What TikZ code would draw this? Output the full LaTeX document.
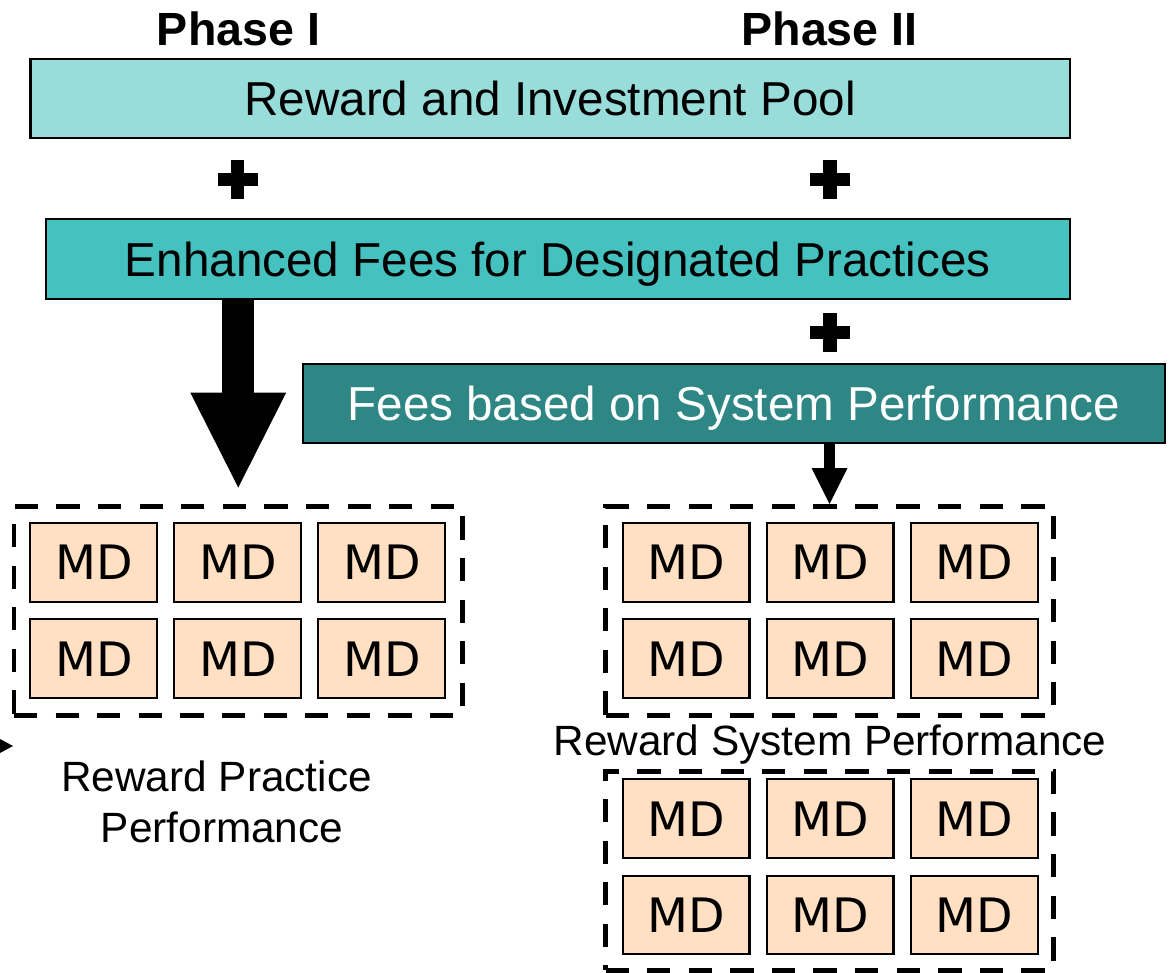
\documentclass[tikz,border=0pt]{standalone}
\usepackage{fontspec}
\setmainfont{Liberation Sans}
\newfontfamily\mdfamily{DejaVu Sans}
\usetikzlibrary{arrows.meta}
\definecolor{poolcol}{HTML}{99DDDB}
\definecolor{feecol}{HTML}{45C1BF}
\definecolor{syscol}{HTML}{2E8784}
\definecolor{mdcol}{HTML}{FFE0C2}
\newcommand\PXU{0.02cm}
\begin{document}
\begin{tikzpicture}[x=0.02cm,y=-0.02cm,
  bar/.style={draw=black, line width=1.14pt, inner sep=0pt, font=\fontsize{27.1}{32}\selectfont, text height=19.4pt, text depth=0pt},
  phase/.style={font=\bfseries\fontsize{26.5}{32}\selectfont, inner sep=0pt},
  lbl/.style={font=\fontsize{24.1}{29}\selectfont, inner sep=0pt},
  grp/.style={draw, line width=0.1cm, dash pattern=on 0.466cm off 0.366cm, inner sep=0pt},
  mdbox/.style={draw, line width=1.14pt, fill=mdcol, inner sep=0pt, minimum width=2.54cm, minimum height=1.57cm, font=\mdfamily\fontsize{27}{32}\selectfont, text height=19.7pt, text depth=0pt},
  heavyplus/.pic={\fill (-20,-6.6) rectangle (20,6.6); \fill (-6.6,-19.6) rectangle (6.6,19.6);}
]
\useasboundingbox (0,0) rectangle (1169,973);

\node[phase, anchor=base] (ph1) at (238.5,46) {Phase I};
\node[phase, anchor=base] (ph2) at (829.5,46) {Phase II};

\node[bar, fill=poolcol, minimum width={1039*\PXU}, minimum height={78.5*\PXU}] (pool) at (550,98.75) {Reward and Investment Pool};
\node[bar, fill=feecol, minimum width={1023.7*\PXU}, minimum height={80*\PXU}] (fees) at (557.7,259.2) {Enhanced Fees for Designated Practices};
\node[bar, fill=syscol, text=white, minimum width={862.7*\PXU}, minimum height={79*\PXU}] (sys) at (733.85,403) {Fees based on System Performance};

\pic at (237.5,179.5) {heavyplus};
\pic at (830,179.5) {heavyplus};
\pic at (830,332.5) {heavyplus};

\node[grp, minimum width={448.5*\PXU}, minimum height={208.5*\PXU}] (grpA) at (238.25,610.75) {};
\node[grp, minimum width={448*\PXU}, minimum height={208.5*\PXU}] (grpB) at (829.5,610.75) {};
\node[grp, minimum width={448*\PXU}, minimum height={199*\PXU}] (grpC) at (829.5,870.5) {};

\foreach \gx/\gy/\gn in {93.8/562.5/A, 686/562.5/B, 686/818.7/C} {
  \foreach \c in {0,1,2} {
    \foreach \r in {0,1} {
      \node[mdbox] (md\gn\r\c) at (\gx+144*\c, \gy+96.2*\r) {MD};
    }
  }
}

\draw[line width=0.64cm, -{Triangle[width=1.92cm,length=1.9cm,line width=0pt]}] (fees.south -| grpA.north) -- ([yshift=0.33cm]grpA.north);
\draw[line width=0.22cm, -{Triangle[width=0.72cm,length=0.72cm,line width=0pt]}] (sys.south -| grpB.north) -- (grpB.north);

\node[lbl, anchor=base] (rsp) at (830,755) {Reward System Performance};
\node[lbl, anchor=base] (rpp1) at (216.5,791) {Reward Practice};
\node[lbl, anchor=base] (rpp2) at (222,842) {Performance};

\fill (0,739) -- (13,746) -- (0,753) -- cycle;
\end{tikzpicture}
\end{document}
